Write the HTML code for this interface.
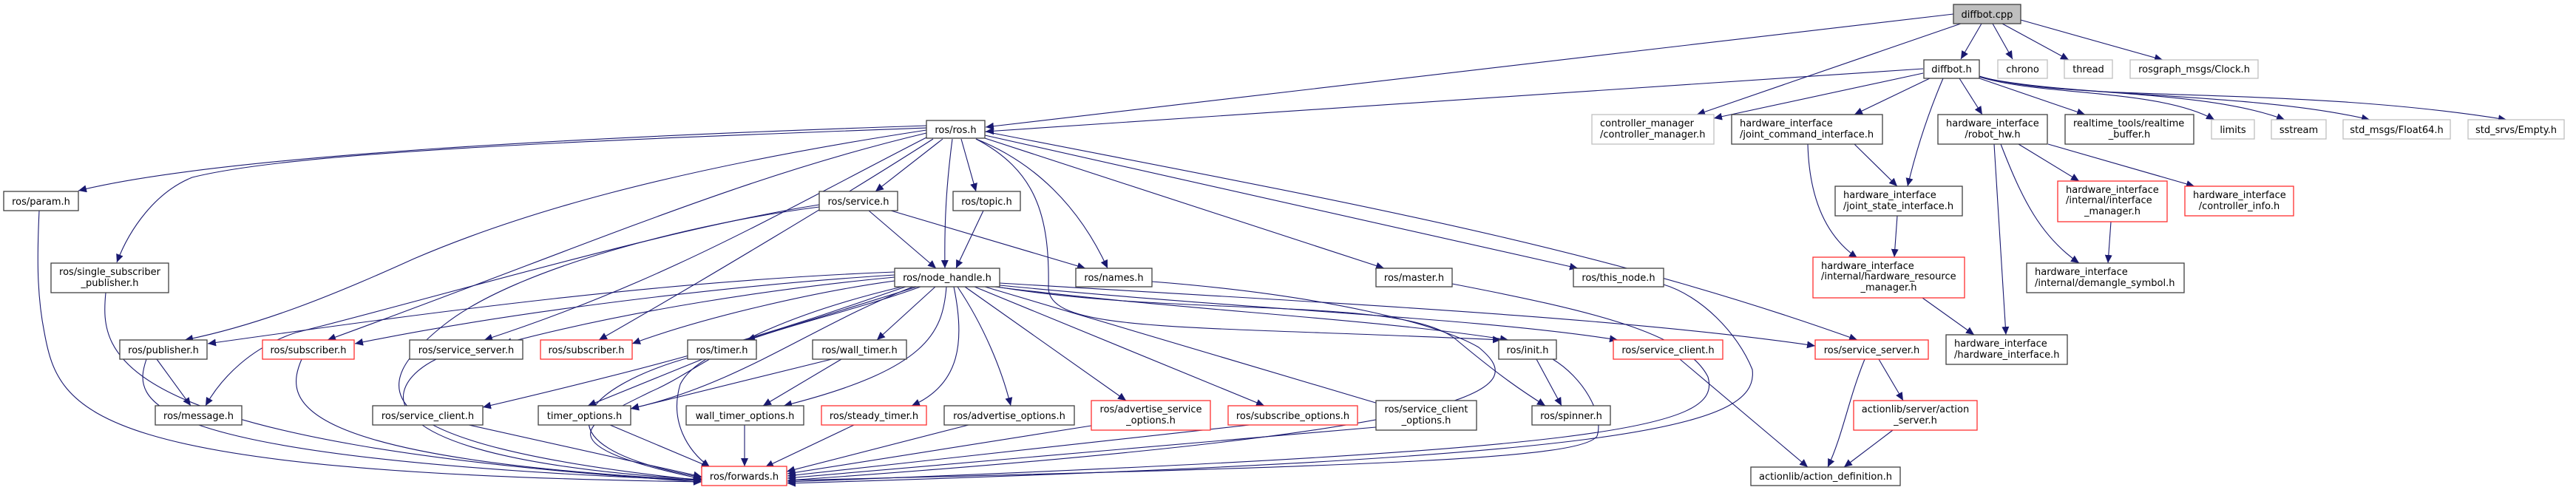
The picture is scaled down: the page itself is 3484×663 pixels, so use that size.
<!DOCTYPE html>
<html><head><meta charset="utf-8">
<style>
html,body{margin:0;padding:0;background:#fff;}
svg{display:block;}
text{font-family:"DejaVu Sans","Liberation Sans",sans-serif;font-size:13px;fill:#000;}
.n{fill:#fff;stroke:#404040;stroke-width:1.3;}
.r{fill:#fff;stroke:#ff3030;stroke-width:1.3;}
.g{fill:#fff;stroke:#bfbfbf;stroke-width:1.3;}
.e{fill:none;stroke:#191970;stroke-width:1.1;marker-end:url(#a);}
</style></head><body>
<svg width="3484" height="663" viewBox="0 0 3484 663" xmlns="http://www.w3.org/2000/svg">
<defs><marker id="a" markerUnits="userSpaceOnUse" markerWidth="12" markerHeight="10" refX="11" refY="5" orient="auto"><path d="M0,0 L11,5 L0,10 z" fill="#191970"/></marker></defs>

<!-- edges -->
<g>
<!-- diffbot.cpp -->
<path class="e" d="M2642,19 L1333,172"/>
<path class="e" d="M2652,32 L2295,155"/>
<path class="e" d="M2680,32 L2652,80"/>
<path class="e" d="M2695,32 L2722,80"/>
<path class="e" d="M2708,32 L2798,81"/>
<path class="e" d="M2733,27 L2925,81"/>
<!-- diffbot.h -->
<path class="e" d="M2601,93 L1333,178"/>
<path class="e" d="M2601,99 L2318,160"/>
<path class="e" d="M2610,106 L2508,155"/>
<path class="e" d="M2628,106 C2605,160 2590,210 2580,252"/>
<path class="e" d="M2650,106 L2681,155"/>
<path class="e" d="M2677,106 L2820,155"/>
<path class="e" d="M2677,104 C2760,130 2920,120 2995,162"/>
<path class="e" d="M2677,104 C2780,130 2980,120 3090,162"/>
<path class="e" d="M2677,104 C2800,132 3050,125 3205,162"/>
<path class="e" d="M2677,103 C2800,140 3100,115 3390,162"/>
<!-- hw -->
<path class="e" d="M2508,195 L2566,252"/>
<path class="e" d="M2445,195 C2447,270 2470,320 2512,349"/>
<path class="e" d="M2566,292 L2562,348"/>
<path class="e" d="M2600,403 L2670,453"/>
<path class="e" d="M2697,195 L2713,453"/>
<path class="e" d="M2706,195 C2735,270 2760,320 2812,356"/>
<path class="e" d="M2730,195 L2812,245"/>
<path class="e" d="M2770,195 L2968,252"/>
<path class="e" d="M2855,300 L2851,356"/>
<!-- ros.h -->
<path class="e" d="M1253,170 C800,185 300,210 106,258"/>
<path class="e" d="M1253,173 C800,190 400,205 260,240 C210,260 175,310 158,355"/>
<path class="e" d="M1253,176 C900,230 700,290 560,350 C450,400 350,440 250,460"/>
<path class="e" d="M1253,180 C1000,240 800,330 443,460"/>
<path class="e" d="M1255,185 C1050,290 900,380 655,460"/>
<path class="e" d="M1262,188 C1150,260 950,380 810,460"/>
<path class="e" d="M1275,188 L1184,259"/>
<path class="e" d="M1288,188 C1280,250 1277,300 1278,363"/>
<path class="e" d="M1300,188 L1320,259"/>
<path class="e" d="M1320,188 C1400,220 1460,280 1498,363"/>
<path class="e" d="M1332,187 L1872,363"/>
<path class="e" d="M1332,183 L2134,363"/>
<path class="e" d="M1332,178 C1800,270 2150,330 2512,460"/>
<path class="e" d="M1320,188 C1400,230 1420,290 1418,390 C1420,450 1600,440 2030,460"/>
<!-- service / topic -->
<path class="e" d="M1175,285 L1266,363"/>
<path class="e" d="M1205,285 L1468,363"/>
<path class="e" d="M1108,277 C900,310 600,400 400,450 C340,470 300,510 278,549"/>
<path class="e" d="M1108,280 C950,300 700,360 600,440 C500,520 470,600 949,650"/>
<path class="e" d="M1330,285 L1293,363"/>
<!-- node_handle -->
<path class="e" d="M1210,368 C900,380 600,420 281,465"/>
<path class="e" d="M1210,372 C1000,385 700,420 480,465"/>
<path class="e" d="M1210,375 C1050,390 850,420 681,465"/>
<path class="e" d="M1210,380 C1100,395 950,430 855,465"/>
<path class="e" d="M1240,388 L1010,460"/>
<path class="e" d="M1265,388 L1186,460"/>
<path class="e" d="M1225,388 C1100,430 1000,470 653,551"/>
<path class="e" d="M1235,388 C1100,440 1000,520 853,553"/>
<path class="e" d="M1280,388 C1275,450 1255,500 1060,549"/>
<path class="e" d="M1290,388 C1305,460 1300,520 1233,549"/>
<path class="e" d="M1295,388 C1330,440 1355,500 1367,549"/>
<path class="e" d="M1305,388 L1523,542"/>
<path class="e" d="M1318,388 L1710,549"/>
<path class="e" d="M1332,388 L1874,549"/>
<path class="e" d="M1345,388 C1600,420 1850,430 2040,460"/>
<path class="e" d="M1348,388 C1600,430 1900,400 1970,460 C2030,510 2060,530 2090,549"/>
<path class="e" d="M1352,386 C1700,420 2000,430 2188,460"/>
<path class="e" d="M1352,383 C1800,410 2200,430 2455,468"/>
<path class="e" d="M1245,388 C1100,440 950,460 920,520 C905,570 930,610 960,632"/>
<path class="e" d="M1220,388 C1000,440 950,500 880,530 C800,570 720,600 949,648"/>
<!-- timers -->
<path class="e" d="M950,486 L795,549"/>
<path class="e" d="M935,483 C800,520 700,600 949,646"/>
<path class="e" d="M1138,486 L1032,549"/>
<path class="e" d="M1125,486 L853,553"/>
<path class="e" d="M1007,575 L1007,631"/>
<path class="e" d="M1155,575 L1035,632"/>
<path class="e" d="M1310,575 L1064,638"/>
<path class="e" d="M1476,576 L1065,641"/>
<path class="e" d="M1690,575 L1065,644"/>
<path class="e" d="M1861,578 L1065,647"/>
<!-- left side into forwards -->
<path class="e" d="M53,285 C50,350 50,400 60,450 C80,560 120,640 949,652"/>
<path class="e" d="M143,396 C135,480 140,600 949,652"/>
<path class="e" d="M212,486 L258,549"/>
<path class="e" d="M198,486 C180,540 170,620 949,650"/>
<path class="e" d="M408,486 C385,540 380,620 949,650"/>
<path class="e" d="M590,486 C520,520 470,620 949,649"/>
<path class="e" d="M634,575 L949,645"/>
<path class="e" d="M825,575 L960,632"/>
<!-- right side into forwards -->
<path class="e" d="M1558,381 C1800,400 1950,440 2000,470 C2060,520 2070,580 1065,650"/>
<path class="e" d="M1964,384 C2150,420 2280,450 2310,510 C2330,580 2180,610 1065,652"/>
<path class="e" d="M2250,385 C2300,400 2350,450 2370,500 C2380,580 2200,620 1065,654"/>
<path class="e" d="M2100,486 C2140,510 2170,560 2160,590 C2140,620 1900,630 1065,650"/>
<path class="e" d="M2078,486 L2112,549"/>
<!-- services -->
<path class="e" d="M2272,486 L2445,632"/>
<path class="e" d="M2522,486 C2500,540 2492,590 2472,632"/>
<path class="e" d="M2541,486 L2574,542"/>
<path class="e" d="M2560,582 L2494,632"/>
</g>

<!-- nodes -->
<g>
<rect x="2642" y="6" width="91" height="26" fill="#bfbfbf" stroke="#404040" stroke-width="1.3"/>
<text x="2687.5" y="24" text-anchor="middle">diffbot.cpp</text>
<rect class="n" x="2602" y="81" width="75" height="25"/><text x="2639.5" y="98" text-anchor="middle">diffbot.h</text>
<rect class="g" x="2702" y="81" width="67" height="25"/><text x="2735.5" y="98" text-anchor="middle">chrono</text>
<rect class="g" x="2792" y="81" width="65" height="25"/><text x="2824.5" y="98" text-anchor="middle">thread</text>
<rect class="g" x="2881" y="81" width="173" height="25"/><text x="2967.5" y="98" text-anchor="middle">rosgraph_msgs/Clock.h</text>

<rect class="g" x="2153" y="155" width="165" height="40"/><text x="2164" y="171">controller_manager</text><text x="2164" y="186">/controller_manager.h</text>
<rect class="n" x="2342" y="155" width="204" height="40"/><text x="2353" y="171">hardware_interface</text><text x="2353" y="186">/joint_command_interface.h</text>
<rect class="n" x="2621" y="155" width="148" height="40"/><text x="2632" y="171">hardware_interface</text><text x="2695" y="186" text-anchor="middle">/robot_hw.h</text>
<rect class="n" x="2793" y="155" width="174" height="40"/><text x="2804" y="171">realtime_tools/realtime</text><text x="2880" y="186" text-anchor="middle">_buffer.h</text>
<rect class="g" x="2991" y="162" width="58" height="26"/><text x="3020" y="180" text-anchor="middle">limits</text>
<rect class="g" x="3072" y="162" width="74" height="26"/><text x="3109" y="180" text-anchor="middle">sstream</text>
<rect class="g" x="3169" y="162" width="145" height="26"/><text x="3241.5" y="180" text-anchor="middle">std_msgs/Float64.h</text>
<rect class="g" x="3338" y="162" width="130" height="26"/><text x="3403" y="180" text-anchor="middle">std_srvs/Empty.h</text>

<rect class="n" x="1253" y="163" width="79" height="24"/><text x="1292.5" y="180" text-anchor="middle">ros/ros.h</text>

<rect class="n" x="5" y="259" width="101" height="26"/><text x="55.5" y="277" text-anchor="middle">ros/param.h</text>
<rect class="n" x="1108" y="259" width="106" height="26"/><text x="1161" y="277" text-anchor="middle">ros/service.h</text>
<rect class="n" x="1289" y="259" width="91" height="26"/><text x="1334.5" y="277" text-anchor="middle">ros/topic.h</text>
<rect class="n" x="2482" y="252" width="172" height="40"/><text x="2493" y="268">hardware_interface</text><text x="2493" y="283">/joint_state_interface.h</text>
<rect class="r" x="2783" y="245" width="148" height="55"/><text x="2794" y="261">hardware_interface</text><text x="2794" y="275">/internal/interface</text><text x="2857" y="290" text-anchor="middle">_manager.h</text>
<rect class="r" x="2955" y="252" width="147" height="40"/><text x="2966" y="268">hardware_interface</text><text x="3028.5" y="283" text-anchor="middle">/controller_info.h</text>

<rect class="n" x="69" y="356" width="159" height="40"/><text x="148.5" y="372" text-anchor="middle">ros/single_subscriber</text><text x="148.5" y="387" text-anchor="middle">_publisher.h</text>
<rect class="n" x="1210" y="363" width="142" height="25"/><text x="1281" y="380" text-anchor="middle">ros/node_handle.h</text>
<rect class="n" x="1455" y="363" width="103" height="25"/><text x="1506.5" y="380" text-anchor="middle">ros/names.h</text>
<rect class="n" x="1861" y="363" width="103" height="25"/><text x="1912.5" y="380" text-anchor="middle">ros/master.h</text>
<rect class="n" x="2128" y="363" width="122" height="25"/><text x="2189" y="380" text-anchor="middle">ros/this_node.h</text>
<rect class="r" x="2452" y="348" width="205" height="55"/><text x="2463" y="364">hardware_interface</text><text x="2463" y="378">/internal/hardware_resource</text><text x="2554.5" y="393" text-anchor="middle">_manager.h</text>
<rect class="n" x="2741" y="356" width="213" height="40"/><text x="2752" y="372">hardware_interface</text><text x="2752" y="387">/internal/demangle_symbol.h</text>

<rect class="n" x="162" y="460" width="118" height="26"/><text x="221" y="478" text-anchor="middle">ros/publisher.h</text>
<rect class="r" x="355" y="460" width="124" height="26"/><text x="417" y="478" text-anchor="middle">ros/subscriber.h</text>
<rect class="n" x="554" y="460" width="153" height="26"/><text x="630.5" y="478" text-anchor="middle">ros/service_server.h</text>
<rect class="r" x="731" y="460" width="124" height="26"/><text x="793" y="478" text-anchor="middle">ros/subscriber.h</text>
<rect class="n" x="930" y="460" width="93" height="26"/><text x="976.5" y="478" text-anchor="middle">ros/timer.h</text>
<rect class="n" x="1099" y="460" width="127" height="26"/><text x="1162.5" y="478" text-anchor="middle">ros/wall_timer.h</text>
<rect class="n" x="2027" y="460" width="78" height="26"/><text x="2066" y="478" text-anchor="middle">ros/init.h</text>
<rect class="r" x="2182" y="460" width="148" height="26"/><text x="2256" y="478" text-anchor="middle">ros/service_client.h</text>
<rect class="r" x="2455" y="460" width="153" height="26"/><text x="2531.5" y="478" text-anchor="middle">ros/service_server.h</text>
<rect class="n" x="2632" y="453" width="164" height="40"/><text x="2643" y="469">hardware_interface</text><text x="2643" y="484">/hardware_interface.h</text>

<rect class="n" x="210" y="549" width="117" height="26"/><text x="268.5" y="567" text-anchor="middle">ros/message.h</text>
<rect class="n" x="504" y="549" width="149" height="26"/><text x="578.5" y="567" text-anchor="middle">ros/service_client.h</text>
<rect class="n" x="728" y="549" width="125" height="26"/><text x="790.5" y="567" text-anchor="middle">timer_options.h</text>
<rect class="n" x="928" y="549" width="159" height="26"/><text x="1007.5" y="567" text-anchor="middle">wall_timer_options.h</text>
<rect class="r" x="1111" y="549" width="142" height="26"/><text x="1182" y="567" text-anchor="middle">ros/steady_timer.h</text>
<rect class="n" x="1277" y="549" width="176" height="26"/><text x="1365" y="567" text-anchor="middle">ros/advertise_options.h</text>
<rect class="r" x="1476" y="542" width="161" height="40"/><text x="1556.5" y="558" text-anchor="middle">ros/advertise_service</text><text x="1556.5" y="573" text-anchor="middle">_options.h</text>
<rect class="r" x="1661" y="549" width="175" height="26"/><text x="1748.5" y="567" text-anchor="middle">ros/subscribe_options.h</text>
<rect class="n" x="1861" y="542" width="136" height="40"/><text x="1929" y="558" text-anchor="middle">ros/service_client</text><text x="1929" y="573" text-anchor="middle">_options.h</text>
<rect class="n" x="2072" y="549" width="106" height="26"/><text x="2125" y="567" text-anchor="middle">ros/spinner.h</text>
<rect class="r" x="2507" y="542" width="167" height="40"/><text x="2590.5" y="558" text-anchor="middle">actionlib/server/action</text><text x="2590.5" y="573" text-anchor="middle">_server.h</text>

<rect class="r" x="949" y="631" width="115" height="26"/><text x="1006.5" y="649" text-anchor="middle">ros/forwards.h</text>
<rect class="n" x="2368" y="632" width="202" height="25"/><text x="2469" y="649" text-anchor="middle">actionlib/action_definition.h</text>
</g>
</svg>
</body></html>
